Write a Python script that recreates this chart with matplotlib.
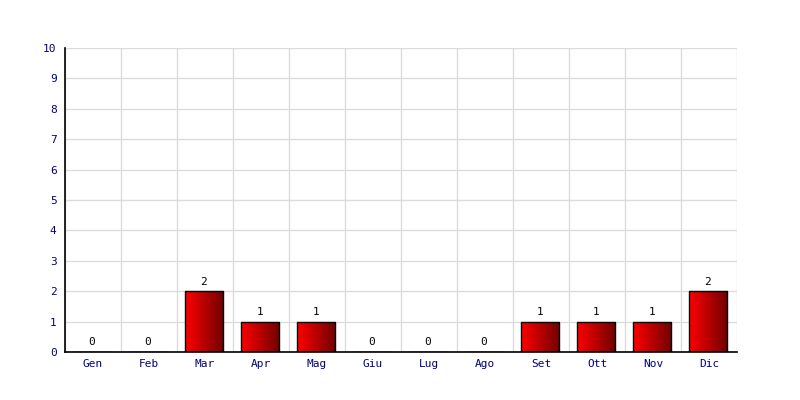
import matplotlib
matplotlib.use("Agg")
import matplotlib.pyplot as plt
import numpy as np
from matplotlib.colors import LinearSegmentedColormap

months = ["Gen", "Feb", "Mar", "Apr", "Mag", "Giu", "Lug", "Ago", "Set", "Ott", "Nov", "Dic"]
values = [0, 0, 2, 1, 1, 0, 0, 0, 1, 1, 1, 2]
y_ticks = list(range(0, 11))

plt.rcParams['font.family'] = ['DejaVu Sans Mono']

fig = plt.figure(figsize=(8, 4), dpi=100)
ax = fig.add_axes([0.08125, 0.12, 0.84, 0.76])

x = np.arange(len(months))

ax.set_xticks(x)
ax.set_xticklabels(months)
ax.set_xticks(np.arange(-0.5, len(months)), minor=True)
ax.set_yticks(y_ticks)
ax.grid(True, which="minor", axis="x", color="#dcdcdc", linewidth=1)
ax.grid(True, which="major", axis="y", color="#dcdcdc", linewidth=1)
ax.set_axisbelow(True)
ax.tick_params(which="both", length=0, labelsize=8, labelcolor="#000080")
ax.tick_params(axis="x", pad=5)
ax.tick_params(axis="y", pad=6)

for s in ["top", "right"]:
    ax.spines[s].set_visible(False)
ax.spines["left"].set_linewidth(1.2)
ax.spines["bottom"].set_linewidth(1.2)

# red to dark red, left to right
cmap = LinearSegmentedColormap.from_list("redgrad", ["#ff0000", "#700000"])
grad = np.linspace(0, 1, 256).reshape(1, -1)
w = 0.68
bars = ax.bar(x - 0.02, values, width=w, color="none", edgecolor="black", linewidth=1, zorder=3)
for b, v in zip(bars, values):
    if v > 0:
        x0 = b.get_x()
        im = ax.imshow(grad, cmap=cmap, aspect="auto", extent=[x0, x0 + w, 0, v], zorder=2)
        im.set_clip_path(b)
    ax.text(b.get_x() + w / 2, v + 0.15, str(v), ha="center", va="bottom", fontsize=8, color="black")

ax.set_xlim(-0.5, len(months) - 0.5)
ax.set_ylim(0, 10)

fig.savefig("out.png", dpi=100)
